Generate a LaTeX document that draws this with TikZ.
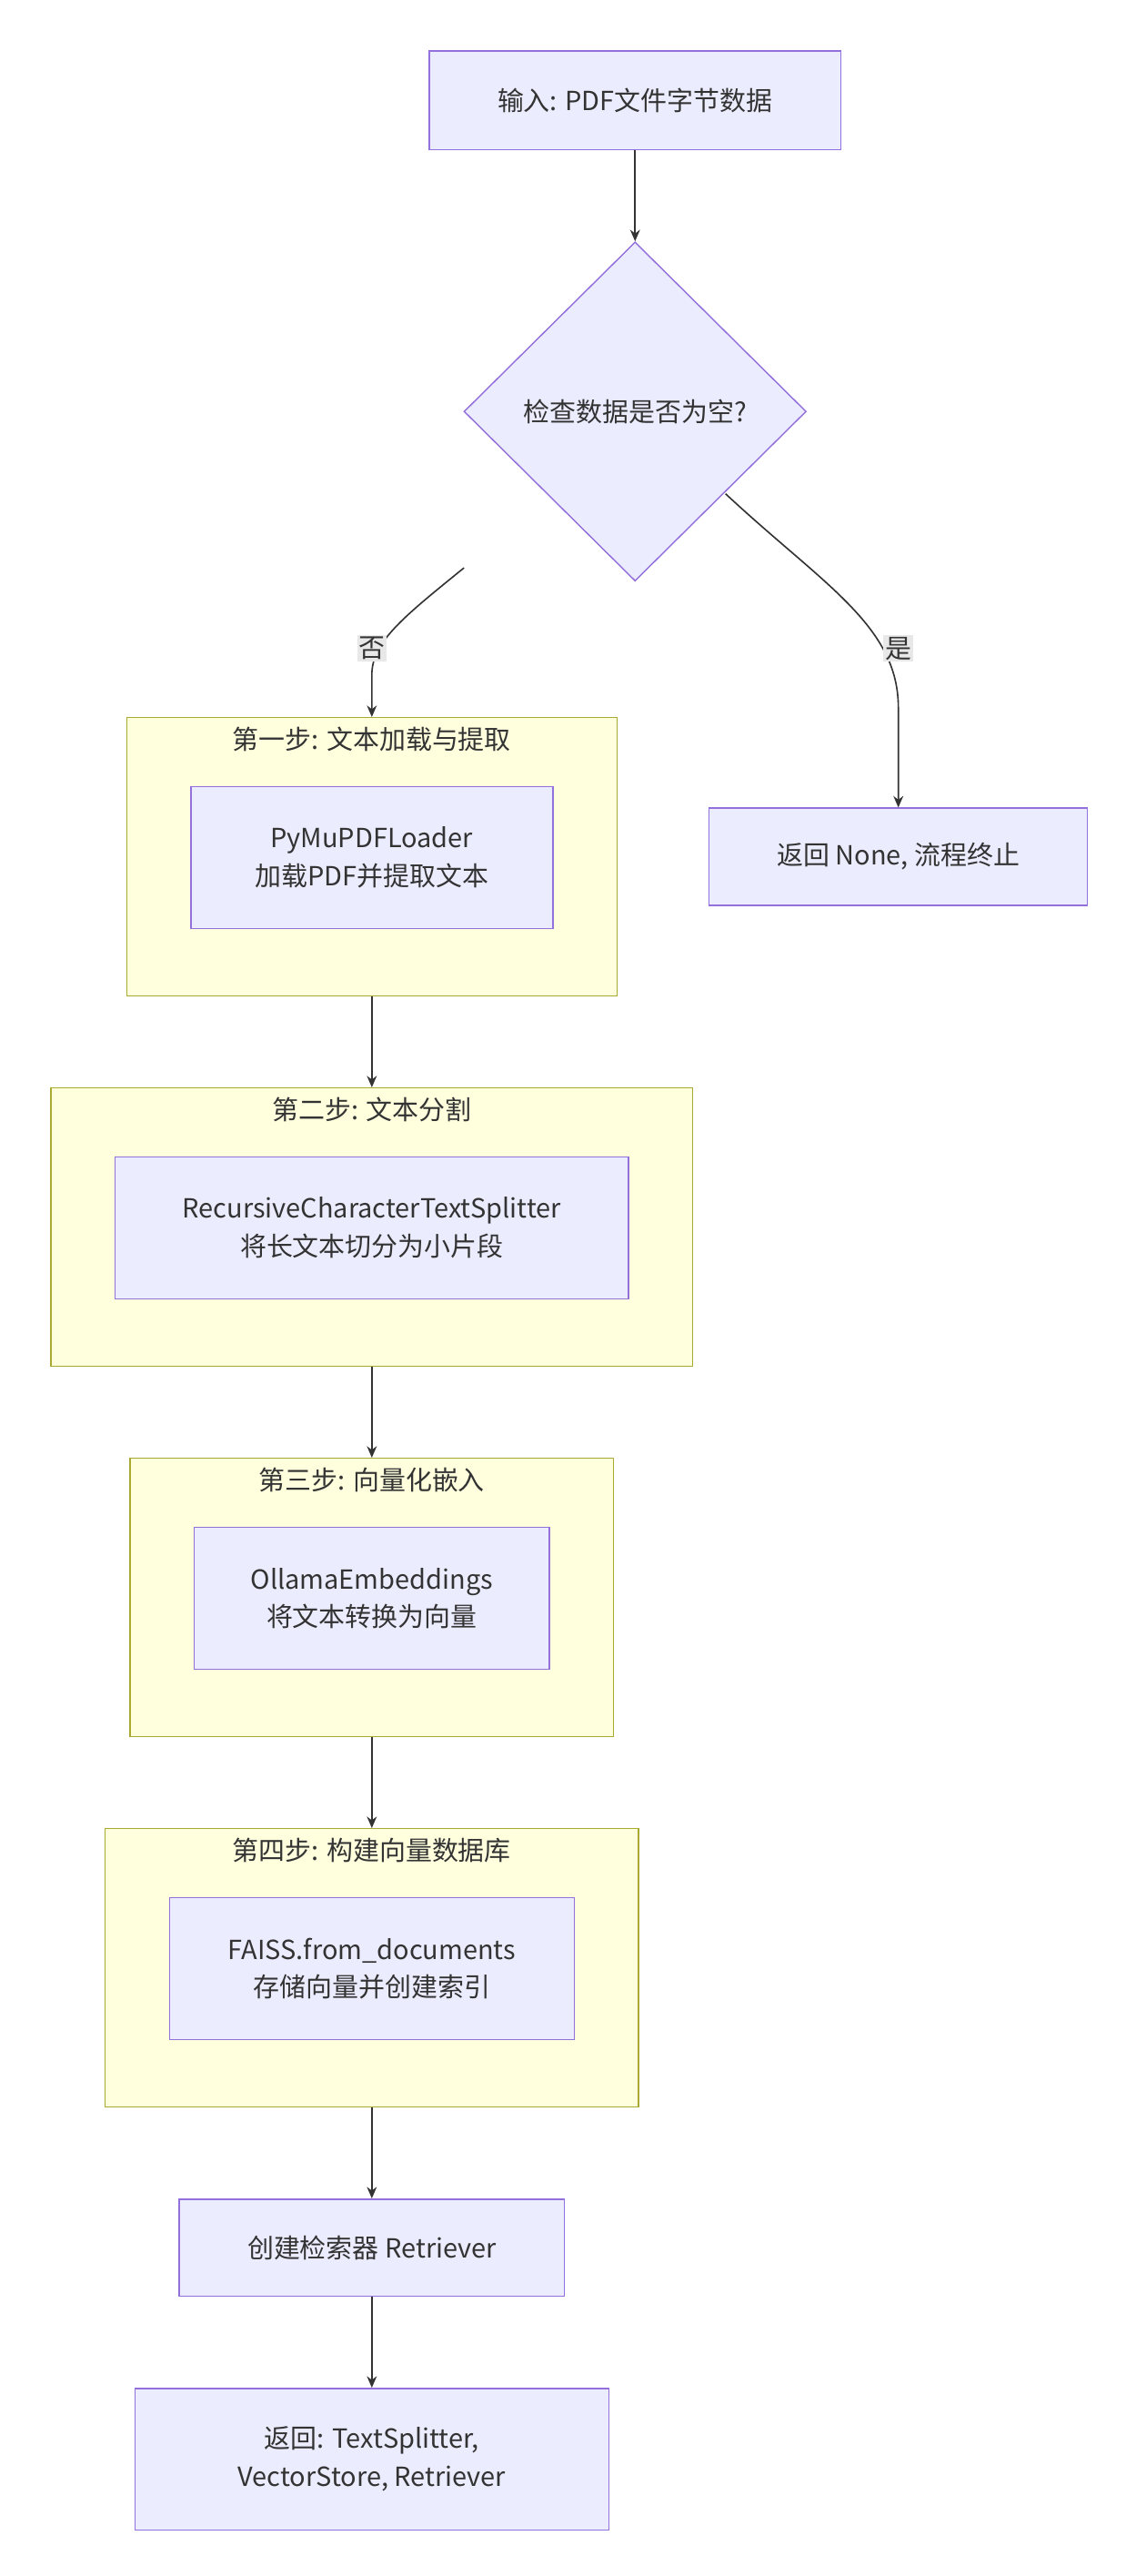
\documentclass[tikz,border=0pt]{standalone}
\usepackage{fontspec}
\setmainfont{Noto Sans CJK SC}
\usetikzlibrary{shapes.geometric,arrows.meta}
\definecolor{nfill}{HTML}{ECECFF}\definecolor{nstroke}{HTML}{9370DB}
\definecolor{gfill}{HTML}{FFFFDE}\definecolor{gstroke}{HTML}{AAAA33}
\definecolor{ln}{HTML}{333333}\definecolor{lbl}{HTML}{E8E8E8}
\begin{document}
\begin{tikzpicture}[x=1pt,y=-1pt,
 every node/.style={font=\fontsize{16}{23}\selectfont,text=ln},
 box/.style={draw=nstroke,fill=nfill,line width=0.8pt,align=center},
 grp/.style={draw=gstroke,fill=gfill,line width=0.8pt},
 edge/.style={draw=ln,line width=0.9pt,-{Stealth[length=7pt,width=6pt]}},
 elbl/.style={fill=lbl,inner sep=1pt}]
\useasboundingbox[fill=white] (0,0) rectangle (690,1565);
\newcommand{\bx}[6]{\node[box,minimum width=#4-#2,minimum height=#5-#3,inner sep=0] (#1) at ({(#2+#4)/2},{(#3+#5)/2}) {#6};}
\newcommand{\gp}[6]{\node[grp,minimum width=#4-#2,minimum height=#5-#3,inner sep=0] (#1) at ({(#2+#4)/2},{(#3+#5)/2}) {};\node at ({(#2+#4)/2},{#3+13}) {#6};}
\bx{in}{261}{31}{511}{91}{输入: PDF文件字节数据}
\node[box,diamond,minimum width=208,minimum height=206,inner sep=0] (dec) at (386,250) {检查数据是否为空?};
\gp{g1}{77}{436}{375}{605}{第一步: 文本加载与提取}
\bx{n1}{116}{478}{336}{564}{PyMuPDFLoader\\加载PDF并提取文本}
\bx{ret}{431}{491}{661}{550}{返回 None, 流程终止}
\gp{g2}{31}{661}{421}{830}{第二步: 文本分割}
\bx{n2}{70}{703}{382}{789}{RecursiveCharacterTextSplitter\\将长文本切分为小片段}
\gp{g3}{79}{886}{373}{1055}{第三步: 向量化嵌入}
\bx{n3}{118}{928}{334}{1014}{OllamaEmbeddings\\将文本转换为向量}
\gp{g4}{64}{1111}{388}{1280}{第四步: 构建向量数据库}
\bx{n4}{103}{1153}{349}{1239}{FAISS.from\_documents\\存储向量并创建索引}
\bx{rt}{109}{1336}{343}{1395}{创建检索器 Retriever}
\bx{fin}{82}{1451}{370}{1537}{返回: TextSplitter,\\VectorStore, Retriever}
\coordinate (dl) at (282,345);
\coordinate (dr) at (441,300);
\draw[edge] (in) -- (dec);
\draw[edge] (dl) .. controls (245,375) and (226,390) .. (226,410) -- (g1.north -| 226,0);
\node[elbl] at (226,394) {否};
\draw[edge] (dr) .. controls (500,355) and (546,380) .. (546,430) -- (ret.north);
\node[elbl] at (546,394) {是};
\draw[edge] (g1.south -| 226,0) -- (g2.north -| 226,0);
\draw[edge] (g2.south -| 226,0) -- (g3.north -| 226,0);
\draw[edge] (g3.south -| 226,0) -- (g4.north -| 226,0);
\draw[edge] (g4.south -| 226,0) -- (rt.north -| 226,0);
\draw[edge] (rt.south -| 226,0) -- (fin.north -| 226,0);
\end{tikzpicture}
\end{document}
